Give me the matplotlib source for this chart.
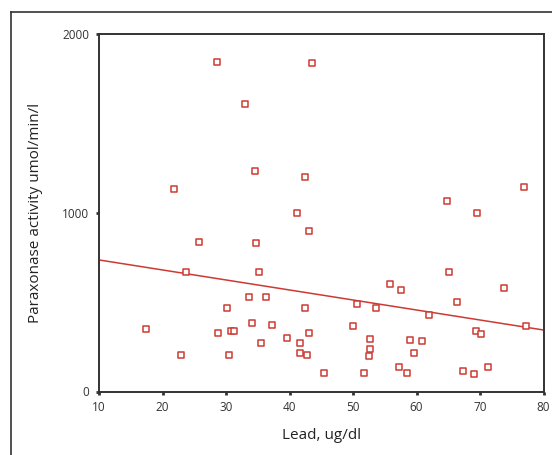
import matplotlib
matplotlib.use("Agg")
import matplotlib.pyplot as plt
from matplotlib.lines import Line2D

plt.rcParams['font.family'] = ['Open Sans', 'DejaVu Sans']

# Lead (ug/dl) vs paraoxonase activity
lead = [28.6, 43.6, 33.0, 34.5, 42.5, 21.8, 41.2, 77.0, 64.8, 69.6,
        43.0, 25.7, 34.7, 23.7, 35.2, 33.6, 36.3, 30.1, 42.4, 17.4,
        34.1, 37.2, 28.8, 30.8, 31.3, 43.0, 39.6, 41.7, 35.5, 41.7,
        42.7, 22.9, 30.5, 65.1, 55.9, 57.5, 73.8, 66.3, 50.7, 53.7,
        62.0, 77.2, 50.0, 69.4, 70.2, 52.7, 59.0, 60.9, 52.7, 59.6,
        52.5, 57.3, 58.5, 71.3, 67.3, 69.0, 45.5, 51.8]
activity = [1843, 1836, 1607, 1234, 1202, 1133, 1000, 1146, 1066, 1000,
            896, 836, 829, 668, 668, 530, 530, 465, 465, 351,
            385, 370, 329, 337, 337, 329, 298, 270, 270, 215,
            202, 202, 202, 668, 601, 568, 581, 501, 488, 465,
            430, 365, 365, 337, 322, 296, 290, 283, 238, 215,
            200, 137, 102, 135, 113, 100, 102, 102]

# fitted line endpoints
fit_x = [10, 80]
fit_y = [736, 344]

x_ticks = [10, 20, 30, 40, 50, 60, 70, 80]
y_ticks = [0, 1000, 2000]

red = '#cc3a33'

fig = plt.figure(figsize=(5.52, 4.55), dpi=100)
fig.patch.set_facecolor('white')

# outer frame (top and left only, as cropped in the source)
fig.add_artist(Line2D([11 / 552, 1.0], [1 - 12 / 455, 1 - 12 / 455],
                      color='#333333', lw=1.2, transform=fig.transFigure))
fig.add_artist(Line2D([11 / 552, 11 / 552], [0, 1 - 12 / 455],
                      color='#333333', lw=1.2, transform=fig.transFigure))

ax = fig.add_axes([99 / 552, (455 - 391.5) / 455, 444.5 / 552, 357.5 / 455])

ax.plot(fit_x, fit_y, color=red, lw=1.1, zorder=2)
ax.scatter(lead, activity, marker='s', s=14, facecolor='white',
           edgecolor=red, linewidth=1.1, zorder=3)

ax.set_xlim(10, 80)
ax.set_ylim(0, 2000)
ax.set_xticks(x_ticks)
ax.set_yticks(y_ticks)
ax.tick_params(length=2, width=2, labelsize=8.5, colors='#333333', pad=5)

for s in ax.spines.values():
    s.set_color('#333333')
    s.set_linewidth(1.4)

ax.set_xlabel('Lead, ug/dl', fontsize=11, color='#222222', labelpad=10)
ax.set_ylabel('Paraxonase activity umol/min/l', fontsize=11, color='#222222', labelpad=14)

fig.savefig('out.png', dpi=100)
